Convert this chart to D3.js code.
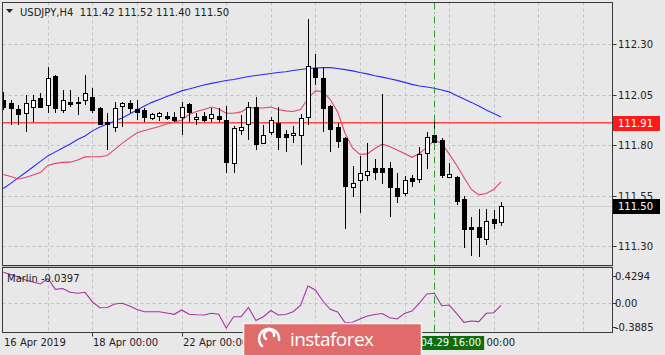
<!DOCTYPE html>
<html>
<head>
<meta charset="utf-8">
<script src="https://cdn.jsdelivr.net/npm/d3@7"></script>
<style>
body { margin: 0; background: #e8e8e8; }
svg { display: block; font-family: "DejaVu Sans", sans-serif; }
</style>
</head>
<body>
<div id="chart"></div>
<script>
// chart data (USDJPY, H4 bars, 16 Apr - 1 May 2019)
var symbol = "USDJPY,H4";
var opens = [112.023,112.008,111.978,111.959,111.988,112.033,111.998,112.142,111.973,112.013,
    112.008,112.023,112.038,111.983,111.914,111.889,111.993,112.008,111.978,111.973,
    111.934,111.944,111.944,111.939,111.939,112.003,111.929,111.944,111.934,111.944,
    111.924,111.711,111.874,111.904,111.988,111.810,111.865,111.909,111.855,111.850,
    111.850,111.939,112.181,112.132,111.993,111.889,111.835,111.592,111.627,111.652,
    111.686,111.686,111.686,111.587,111.563,111.637,111.632,111.761,111.850,111.825,
    111.642,111.642,111.533,111.394,111.394,111.335,111.434,111.420];
var highs = [112.063,112.023,111.998,112.048,112.048,112.058,112.186,112.147,112.072,112.072,
    112.038,112.147,112.082,111.988,111.959,112.013,112.013,112.023,112.023,111.983,
    111.959,111.964,111.964,111.964,112.013,112.008,111.959,111.964,111.983,111.983,
    111.993,111.894,111.949,112.013,112.038,111.899,111.939,111.988,111.874,111.894,
    111.954,112.424,112.251,112.181,111.998,111.909,111.840,111.696,111.746,111.810,
    111.731,112.053,111.716,111.662,111.647,111.652,111.790,111.865,111.939,111.835,
    111.711,111.647,111.548,111.444,111.483,111.483,111.478,111.520];
var lows = [111.973,111.899,111.899,111.865,111.914,111.983,111.959,111.959,111.959,111.988,
    111.949,111.998,111.959,111.899,111.775,111.865,111.889,111.959,111.924,111.914,
    111.924,111.919,111.924,111.914,111.850,111.914,111.899,111.914,111.914,111.914,
    111.662,111.662,111.850,111.825,111.775,111.805,111.850,111.775,111.766,111.810,
    111.701,111.899,112.097,111.865,111.766,111.785,111.384,111.543,111.464,111.622,
    111.627,111.607,111.444,111.513,111.548,111.592,111.612,111.681,111.775,111.637,
    111.637,111.503,111.290,111.251,111.246,111.305,111.384,111.400];
var closes = [111.988,111.983,111.954,112.008,112.023,111.988,112.132,111.983,112.023,112.003,
    112.013,112.058,111.973,111.904,111.904,111.983,112.008,111.983,111.964,111.939,
    111.954,111.959,111.934,111.924,111.988,111.964,111.939,111.924,111.954,111.929,
    111.716,111.884,111.889,111.988,111.805,111.850,111.924,111.840,111.840,111.860,
    111.934,112.191,112.137,111.983,111.879,111.820,111.597,111.612,111.662,111.672,
    111.667,111.667,111.592,111.548,111.627,111.622,111.756,111.840,111.815,111.652,
    111.657,111.523,111.384,111.384,111.345,111.424,111.414,111.500];

// slow (blue) and fast (red) moving averages
var slowMA = [111.585,111.610,111.637,111.664,111.691,111.719,111.746,111.766,111.785,111.805,
    111.827,111.845,111.870,111.889,111.904,111.919,111.934,111.954,111.973,111.993,
    112.011,112.025,112.040,112.054,112.068,112.077,112.087,112.097,112.105,112.112,
    112.119,112.124,112.132,112.139,112.144,112.149,112.154,112.159,112.163,112.169,
    112.174,112.179,112.181,112.183,112.183,112.179,112.173,112.167,112.159,112.152,
    112.143,112.136,112.128,112.120,112.110,112.100,112.092,112.087,112.081,112.072,
    112.063,112.045,112.028,112.011,111.993,111.973,111.956,111.939];
var fastMA = [111.654,111.644,111.632,111.639,111.652,111.664,111.699,111.709,111.714,111.715,
    111.726,111.741,111.742,111.742,111.748,111.778,111.808,111.835,111.861,111.872,
    111.882,111.892,111.904,111.914,111.922,111.951,111.966,111.976,111.988,111.978,
    111.957,111.957,111.964,111.986,111.983,111.983,111.988,111.976,111.969,111.966,
    111.976,112.029,112.068,112.065,112.025,111.964,111.858,111.785,111.753,111.756,
    111.783,111.804,111.793,111.775,111.758,111.739,111.758,111.788,111.823,111.809,
    111.756,111.701,111.639,111.580,111.553,111.560,111.580,111.617];

// Marlin oscillator
var marlin = [0.489,0.453,0.413,0.365,0.333,0.301,0.389,0.216,0.229,0.168,
    0.152,0.168,0.012,-0.079,-0.076,-0.020,-0.008,-0.052,-0.108,-0.143,
    -0.143,-0.143,-0.164,-0.185,-0.116,-0.185,-0.193,-0.196,-0.169,-0.185,
    -0.404,-0.223,-0.223,-0.076,-0.284,-0.223,-0.124,-0.196,-0.188,-0.143,
    -0.044,0.269,0.205,0.028,-0.105,-0.148,-0.319,-0.313,-0.260,-0.212,
    -0.188,-0.172,-0.239,-0.260,-0.172,-0.132,-0.004,0.141,0.152,-0.047,
    -0.036,-0.169,-0.313,-0.292,-0.303,-0.169,-0.159,-0.040];
var marlinLabel = "Marlin -0.0397";

// axes
var priceTicks = [112.30, 112.05, 111.80, 111.55, 111.30];
var marlinTicks = [0.4294, 0.00, -0.3885];
var marlinTickLabels = ["0.4294", "0.00", "-0.3885"];
var dayBars = [6, 12, 18, 24, 30, 36, 42, 48, 54, 60, 66, 72, 78];
var tickBars = [12, 24, 36, 48, 60];
var dateBars = [0, 12, 24, 60];
var dateLabels = ["16 Apr 2019", "18 Apr 00:00", "22 Apr 00:00", "30 Apr 00:00"];

// levels
var levelPrice = 111.91;
var markerBar = 58;
var markerLabel = "2019.04.29 16:00";

var width = 665, height = 355;
var box = { left: 2.5, right: 612.5, top: 2.5, bottom: 265.5 };
var sub = { top: 267.5, bottom: 332.5 };

var svg = d3.select("#chart").append("svg")
    .attr("width", width)
    .attr("height", height);

var x = d3.scaleLinear().domain([0, 80]).range([3.3, 597.7]);
var y = d3.scaleLinear().domain([111.30, 112.30]).range([246, 44]);
var yi = d3.scaleLinear().domain([-0.3885, 0.4294]).range([327, 276]);

function px(v) { return Math.round(v) + 0.5; }

svg.append("rect").attr("width", width).attr("height", height).attr("fill", "#e8e8e8");

// clip paths
var defs = svg.append("defs");
defs.append("clipPath").attr("id", "clipMain").append("rect")
    .attr("x", box.left).attr("y", box.top)
    .attr("width", box.right - box.left).attr("height", box.bottom - box.top);
defs.append("clipPath").attr("id", "clipSub").append("rect")
    .attr("x", box.left).attr("y", sub.top)
    .attr("width", box.right - box.left).attr("height", sub.bottom - sub.top);

// grid
var grid = svg.append("g")
    .attr("stroke", "#c2c2c2")
    .attr("stroke-dasharray", "3,3")
    .attr("stroke-width", 1);
grid.selectAll(".vg").data(dayBars).enter().append("line")
    .attr("x1", function(d) { return px(x(d)); })
    .attr("x2", function(d) { return px(x(d)); })
    .attr("y1", box.top).attr("y2", box.bottom);
grid.selectAll(".vs").data(dayBars).enter().append("line")
    .attr("x1", function(d) { return px(x(d)); })
    .attr("x2", function(d) { return px(x(d)); })
    .attr("y1", sub.top).attr("y2", sub.bottom);
grid.selectAll(".hg").data(priceTicks).enter().append("line")
    .attr("x1", box.left).attr("x2", box.right)
    .attr("y1", function(d) { return px(y(d)); })
    .attr("y2", function(d) { return px(y(d)); });
grid.append("line")
    .attr("x1", box.left).attr("x2", box.right)
    .attr("y1", px(yi(0))).attr("y2", px(yi(0)));

var main = svg.append("g").attr("clip-path", "url(#clipMain)");

// current price line
var last = closes[closes.length - 1];
main.append("line")
    .attr("x1", box.left).attr("x2", box.right)
    .attr("y1", px(y(last))).attr("y2", px(y(last)))
    .attr("stroke", "#cfcfcf");

// level line
main.append("line")
    .attr("x1", box.left).attr("x2", box.right)
    .attr("y1", y(levelPrice)).attr("y2", y(levelPrice))
    .attr("stroke", "#ff4747")
    .attr("stroke-width", 1.6);

// moving averages
var maLine = d3.line()
    .x(function(d, i) { return x(i); })
    .y(function(d) { return y(d); });
main.append("path").datum(slowMA)
    .attr("d", maLine).attr("fill", "none")
    .attr("stroke", "#2a2aff").attr("stroke-width", 1.1);
main.append("path").datum(fastMA)
    .attr("d", maLine).attr("fill", "none")
    .attr("stroke", "#e2456a").attr("stroke-width", 1.1);

// candles
var bars = d3.range(opens.length);
var candles = main.selectAll(".candle").data(bars).enter().append("g").attr("class", "candle");
candles.append("line")
    .attr("x1", function(i) { return Math.round(x(i)) + 0.5; })
    .attr("x2", function(i) { return Math.round(x(i)) + 0.5; })
    .attr("y1", function(i) { return Math.round(y(highs[i])); })
    .attr("y2", function(i) { return Math.round(y(lows[i])); })
    .attr("stroke", "#000");
candles.append("rect")
    .attr("x", function(i) { return Math.round(x(i)) - 1.5; })
    .attr("y", function(i) { return Math.round(y(Math.max(opens[i], closes[i]))) + 0.5; })
    .attr("width", 4)
    .attr("height", function(i) {
        return Math.max(0, Math.round(y(Math.min(opens[i], closes[i]))) - Math.round(y(Math.max(opens[i], closes[i]))));
    })
    .attr("fill", function(i) { return closes[i] < opens[i] ? "#000" : "#fff"; })
    .attr("stroke", "#000");

// marlin
var subG = svg.append("g").attr("clip-path", "url(#clipSub)");
subG.append("path").datum(marlin)
    .attr("d", d3.line().x(function(d, i) { return x(i); }).y(function(d) { return yi(d); }))
    .attr("fill", "none")
    .attr("stroke", "#a634a6")
    .attr("stroke-width", 1.1);

// vertical marker line
svg.append("line")
    .attr("x1", px(x(markerBar))).attr("x2", px(x(markerBar)))
    .attr("y1", box.top).attr("y2", sub.bottom)
    .attr("stroke", "#2f9a2f")
    .attr("stroke-dasharray", "7,3,1,3");

// borders
var frame = svg.append("g").attr("fill", "none").attr("stroke", "#3a3a3a");
frame.append("rect")
    .attr("x", box.left).attr("y", box.top)
    .attr("width", box.right - box.left).attr("height", box.bottom - box.top);
frame.append("rect")
    .attr("x", box.left).attr("y", sub.top)
    .attr("width", box.right - box.left).attr("height", sub.bottom - sub.top);
svg.append("line")
    .attr("x1", box.left).attr("x2", box.right)
    .attr("y1", 266.5).attr("y2", 266.5)
    .attr("stroke", "#bdbdbd");

// header
svg.append("path").attr("d", "M6,9 L13,9 L9.5,13 Z").attr("fill", "#222");
svg.append("text")
    .attr("x", 20).attr("y", 16)
    .style("font-size", "10px")
    .style("white-space", "pre")
    .attr("fill", "#222")
    .text(symbol + "  " + [opens, highs, lows, closes].map(function(a) { return a[a.length - 1].toFixed(2); }).join(" "));

svg.append("text")
    .attr("x", 7).attr("y", 282)
    .style("font-size", "10px")
    .attr("fill", "#222")
    .text(marlinLabel);

// right axis
var axisG = svg.append("g").style("font-size", "10px").attr("fill", "#222");
axisG.selectAll(".pt").data(priceTicks).enter().append("line")
    .attr("x1", box.right).attr("x2", box.right + 4)
    .attr("y1", function(d) { return px(y(d)); })
    .attr("y2", function(d) { return px(y(d)); })
    .attr("stroke", "#3a3a3a");
axisG.selectAll(".pl").data(priceTicks).enter().append("text")
    .attr("x", 618)
    .attr("y", function(d) { return y(d) + 4; })
    .text(function(d) { return d.toFixed(2); });
axisG.selectAll(".mt").data(marlinTicks).enter().append("line")
    .attr("x1", box.right).attr("x2", box.right + 4)
    .attr("y1", function(d) { return px(yi(d)); })
    .attr("y2", function(d) { return px(yi(d)); })
    .attr("stroke", "#3a3a3a");
axisG.selectAll(".ml").data(marlinTicks).enter().append("text")
    .attr("x", 615)
    .attr("y", function(d) { return yi(d) + 4; })
    .text(function(d, i) { return marlinTickLabels[i]; });

// price labels
function priceTag(p, bg) {
    svg.append("rect")
        .attr("x", 613).attr("y", Math.round(y(p)) - 7)
        .attr("width", 47).attr("height", 15)
        .attr("fill", bg);
    svg.append("text")
        .attr("x", 618).attr("y", y(p) + 4)
        .style("font-size", "10px")
        .attr("fill", "#fff")
        .text(p.toFixed(2));
}
priceTag(levelPrice, "#ff1a1a");
priceTag(last, "#000");

// bottom axis
axisG.selectAll(".dt").data(tickBars).enter().append("line")
    .attr("x1", function(d) { return px(x(d)); })
    .attr("x2", function(d) { return px(x(d)); })
    .attr("y1", sub.bottom).attr("y2", sub.bottom + 4)
    .attr("stroke", "#3a3a3a");
axisG.selectAll(".dl").data(dateBars).enter().append("text")
    .attr("x", function(d) { return Math.max(3, Math.round(x(d)) + 1); })
    .attr("y", 346)
    .text(function(d, i) { return dateLabels[i]; });

// marker date label
var mx = px(x(markerBar));
var mText = svg.append("text")
    .attr("x", mx + 2).attr("y", 346)
    .attr("text-anchor", "middle")
    .style("font-size", "10px")
    .attr("fill", "#fff")
    .text(markerLabel);
var mw = mText.node().getComputedTextLength();
svg.insert("rect", function() { return mText.node(); })
    .attr("x", mx + 2 - mw / 2 - 3).attr("y", 336)
    .attr("width", mw + 6).attr("height", 14)
    .attr("fill", "#0c6e0c");

// watermark banner
var banner = svg.append("g");
banner.append("rect")
    .attr("x", 243.5).attr("y", 323.5)
    .attr("width", 178).attr("height", 40)
    .attr("fill", "#e16a6b")
    .attr("stroke", "#f6f6f6")
    .attr("stroke-width", 1.5);
banner.append("path")
    .attr("d", "M262,346 A10,10 0 1 1 279,340 M266,339 A5,5 0 1 1 274,336")
    .attr("fill", "none")
    .attr("stroke", "#fff")
    .attr("stroke-width", 2.5)
    .attr("stroke-linecap", "round");
banner.append("text")
    .attr("x", 290).attr("y", 346)
    .attr("textLength", 84)
    .style("font-family", "'Open Sans', sans-serif")
    .style("font-size", "19px")
    .attr("fill", "#fff")
    .text("instaforex");
</script>
</body>
</html>
